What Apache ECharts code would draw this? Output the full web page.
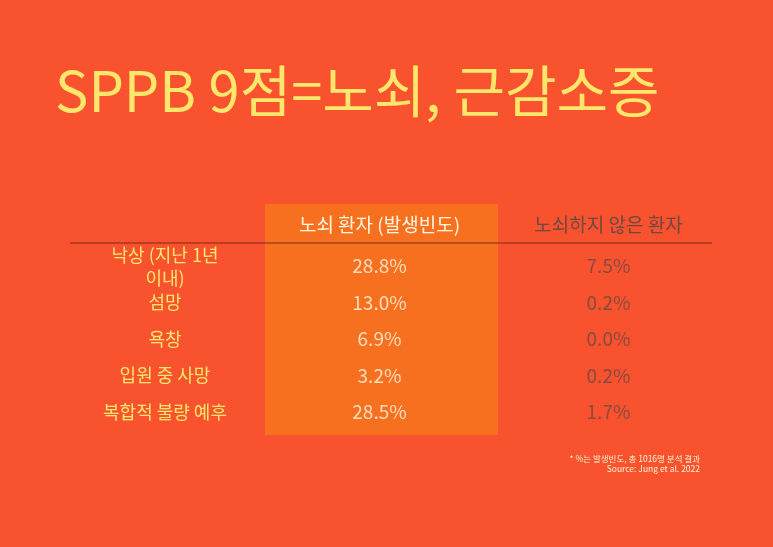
<!DOCTYPE html>
<html><head><meta charset="utf-8">
<script src="https://cdn.jsdelivr.net/npm/echarts@6/dist/echarts.min.js"></script>
<style>html,body{margin:0;padding:0;background:#F9522F}#c{width:773px;height:547px}</style>
</head><body><div id="c"></div>
<script>
const columns = ['노쇠 환자 (발생빈도)', '노쇠하지 않은 환자'];
const rows = ['낙상 (지난 1년\n이내)', '섬망', '욕창', '입원 중 사망', '복합적 불량 예후'];
const frailValues = [28.8, 13.0, 6.9, 3.2, 28.5];
const nonFrailValues = [7.5, 0.2, 0.0, 0.2, 1.7];
const FONT = '"Noto Sans CJK KR", "Noto Sans", sans-serif';
const chart = echarts.init(document.getElementById('c'));
function pts(col, vals){ return vals.map((v,i)=>({value:[col, rows[i]], raw:v})); }
chart.setOption({
  backgroundColor:'#F9522F',
  title:{text:'SPPB 9점=노쇠, 근감소증', left:50, top:58,
    textStyle:{color:'#FCE66B', fontSize:56, fontWeight:'normal', fontFamily:FONT}},
  graphic:[
    {type:'rect', z:0, shape:{x:265,y:204,width:233,height:231}, style:{fill:'#F7701F'}},
    {type:'line', z:5, shape:{x1:70,y1:243,x2:712,y2:243}, style:{stroke:'#7a2a1a', lineWidth:1}},
    {type:'text', x:700, y:454, style:{text:'* %는 발생빈도, 총 1016명 분석 결과\nSource: Jung et al. 2022', fill:'#fff4d0', font:'8.5px '+FONT, align:'right', lineHeight:10}}
  ],
  grid:{left:265, right:50, top:248, bottom:117},
  xAxis:{type:'category', data:columns, position:'top',
    axisLine:{show:false}, axisTick:{show:false}, splitLine:{show:false},
    axisLabel:{interval:0, hideOverlap:false, margin:14, fontSize:19, fontFamily:FONT,
      formatter:(v,i)=> i===0 ? '{a|'+v+'}' : '{b|'+v+'}',
      rich:{a:{color:'#FFF6E0', fontSize:19, fontFamily:FONT}, b:{color:'#6B4A42', fontSize:19, fontFamily:FONT}}}},
  yAxis:{type:'category', data:rows, inverse:true,
    axisLine:{show:false}, axisTick:{show:false}, splitLine:{show:false},
    axisLabel:{interval:0, hideOverlap:false, align:'center', margin:100, color:'#FCE66B', fontSize:18, lineHeight:23, fontFamily:FONT}},
  series:[
    {type:'scatter', symbolSize:0, data:pts(columns[0], frailValues), z:3,
     label:{show:true, position:'inside', formatter:p=>p.data.raw.toFixed(1)+'%', color:'#FFF6E0', fontSize:19, fontFamily:FONT}},
    {type:'scatter', symbolSize:0, data:pts(columns[1], nonFrailValues), z:3,
     label:{show:true, position:'inside', formatter:p=>p.data.raw.toFixed(1)+'%', color:'#6B4A42', fontSize:19, fontFamily:FONT}}
  ]
});
</script></body></html>
